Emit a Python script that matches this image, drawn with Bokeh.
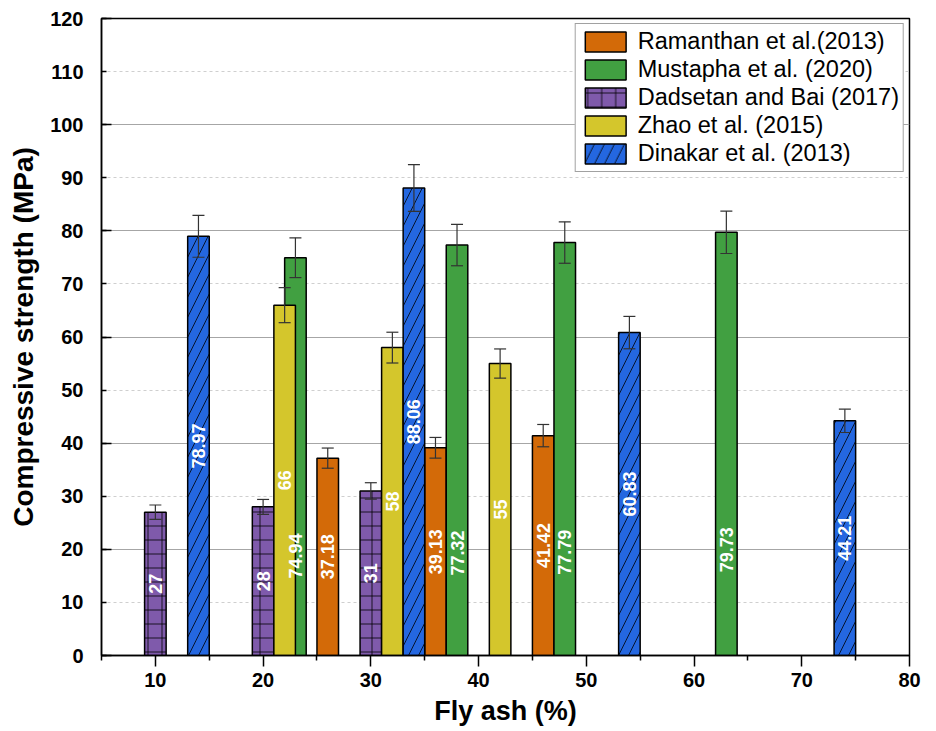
import math

from bokeh.core.properties import value
from bokeh.embed import file_html
from bokeh.models import (ColumnDataSource, FixedTicker, Legend, LegendItem,
                          Range1d, TeeHead, Whisker)
from bokeh.plotting import figure
from bokeh.resources import INLINE

# Compressive strength (MPa) against fly ash content (%) for each study
ram_x = [26, 36, 46]
ram_y = [37.18, 39.13, 41.42]
ram_err = [1.9, 1.95, 2.1]

mus_x = [23, 38, 48, 63]
mus_y = [74.94, 77.32, 77.79, 79.73]
mus_err = [3.75, 3.9, 3.9, 4.0]

dad_x = [10, 20, 30]
dad_y = [27, 28, 31]
dad_err = [1.35, 1.4, 1.55]

zha_x = [22, 32, 42]
zha_y = [66, 58, 55]
zha_err = [3.3, 2.9, 2.75]

din_x = [14, 34, 54, 74]
din_y = [78.97, 88.06, 60.83, 44.21]
din_err = [3.95, 4.4, 3.05, 2.2]

x_ticks = [10, 20, 30, 40, 50, 60, 70, 80]
x_minor = [5, 15, 25, 35, 45, 55, 65, 75]
y_ticks = [0, 10, 20, 30, 40, 50, 60, 70, 80, 90, 100, 110, 120]

FONT = "Liberation Sans"

p = figure(width=936, height=731,
           x_range=Range1d(5, 80), y_range=Range1d(0, 120),
           output_backend="svg", toolbar_location=None,
           min_border_left=101, min_border_right=27,
           min_border_top=18, min_border_bottom=76)
p.background_fill_color = "white"
p.border_fill_color = "white"
p.outline_line_color = "black"
p.outline_line_width = 1.5

# grid: solid at every 20 MPa, dotted in between
p.xgrid.visible = False
p.ygrid.ticker = FixedTicker(ticks=[20, 40, 60, 80, 100],
                             minor_ticks=[10, 30, 50, 70, 90, 110])
p.ygrid.grid_line_color = "#a6a6a6"
p.ygrid.grid_line_width = 1
p.ygrid.minor_grid_line_color = "#cfcfcf"
p.ygrid.minor_grid_line_dash = "3 3"

# axes
p.xaxis.ticker = FixedTicker(ticks=x_ticks, minor_ticks=x_minor)
p.yaxis.ticker = FixedTicker(ticks=y_ticks, minor_ticks=[0, 20, 40, 60, 80, 100, 120])
for ax in (p.xaxis, p.yaxis):
    ax.axis_line_color = "black"
    ax.axis_line_width = 1.5
    ax.major_tick_line_width = 1.5
    ax.minor_tick_line_width = 1.5
    ax.major_tick_line_color = "black"
    ax.minor_tick_line_color = "black"
    ax.major_label_text_font = FONT
    ax.major_label_text_font_style = "bold"
    ax.major_label_text_font_size = "20px"
    ax.major_label_text_color = "black"
    ax.axis_label_text_font = FONT
    ax.axis_label_text_font_style = "bold"
    ax.axis_label_text_color = "black"

p.xaxis.major_tick_in = 0
p.xaxis.major_tick_out = 11
p.xaxis.minor_tick_in = 0
p.xaxis.minor_tick_out = 5
p.xaxis.major_label_standoff = 6
p.xaxis.axis_label = "Fly ash (%)"
p.xaxis.axis_label_standoff = 6
p.xaxis.axis_label_text_font_size = "27px"

p.yaxis.major_tick_in = 5
p.yaxis.major_tick_out = 0
p.yaxis.minor_tick_in = 10
p.yaxis.minor_tick_out = 0
p.yaxis.major_label_standoff = 18
p.yaxis.axis_label = "Compressive strength (MPa)"
p.yaxis.axis_label_standoff = 8
p.yaxis.axis_label_text_font_size = "28px"

BAR_W = 2

series = [
    # name, x, y, err, fill, hatch, label fraction of bar height
    ("Ramanthan et al.(2013)", ram_x, ram_y, ram_err, "#d36a08", None, 0.5),
    ("Mustapha et al. (2020)", mus_x, mus_y, mus_err, "#41a041", None, 0.25),
    ("Dadsetan and Bai (2017)", dad_x, dad_y, dad_err, "#7f5aab", "+", 0.5),
    ("Zhao et al. (2015)", zha_x, zha_y, zha_err, "#d4c62c", None, 0.5),
    ("Dinakar et al. (2013)", din_x, din_y, din_err, "#2467e0", "/", 0.5),
]

items = []
sources = []
# bars first, so that every value label sits above all of them
for name, xs, ys, errs, color, hatch, frac in series:
    src = ColumnDataSource(dict(
        x=xs, top=ys,
        upper=[v + e for v, e in zip(ys, errs)],
        lower=[v - e for v, e in zip(ys, errs)],
        ly=[v * frac for v in ys],
        label=[f"{v:g}" for v in ys],
    ))
    sources.append(src)
    kw = {}
    if hatch:
        kw = dict(hatch_pattern=hatch, hatch_color="black",
                  hatch_weight=1, hatch_alpha=0.8,
                  hatch_scale=14 if hatch == "+" else 20)
    r = p.vbar(x="x", top="top", width=BAR_W, source=src,
               fill_color=color, line_color="black", line_width=1.5, **kw)
    items.append(LegendItem(label=name, renderers=[r]))

for src in sources:
    p.text(x="x", y="ly", text="label", source=src, angle=math.pi / 2,
           text_align="center", text_baseline="middle",
           text_color="white", text_font=value(FONT),
           text_font_style="bold", text_font_size="18px")

    wh = Whisker(base="x", upper="upper", lower="lower", source=src,
                 line_color="#333333", line_width=1.2, level="overlay",
                 upper_head=TeeHead(size=12, line_color="#333333", line_width=1.2),
                 lower_head=TeeHead(size=12, line_color="#333333", line_width=1.2))
    p.add_layout(wh)

legend = Legend(items=items, location="top_right")
legend.margin = 5
legend.padding = 4
legend.spacing = 1
legend.glyph_width = 51
legend.glyph_height = 25
legend.label_standoff = 7
legend.label_text_font = FONT
legend.label_text_font_size = "23.5px"
legend.label_text_color = "black"
legend.label_height = 25
legend.label_text_line_height = 1.1
legend.border_line_color = "#444444"
legend.border_line_width = 1.5
legend.background_fill_color = "white"
legend.background_fill_alpha = 1
p.add_layout(legend)

open("out.html", "w").write(file_html(p, INLINE))
